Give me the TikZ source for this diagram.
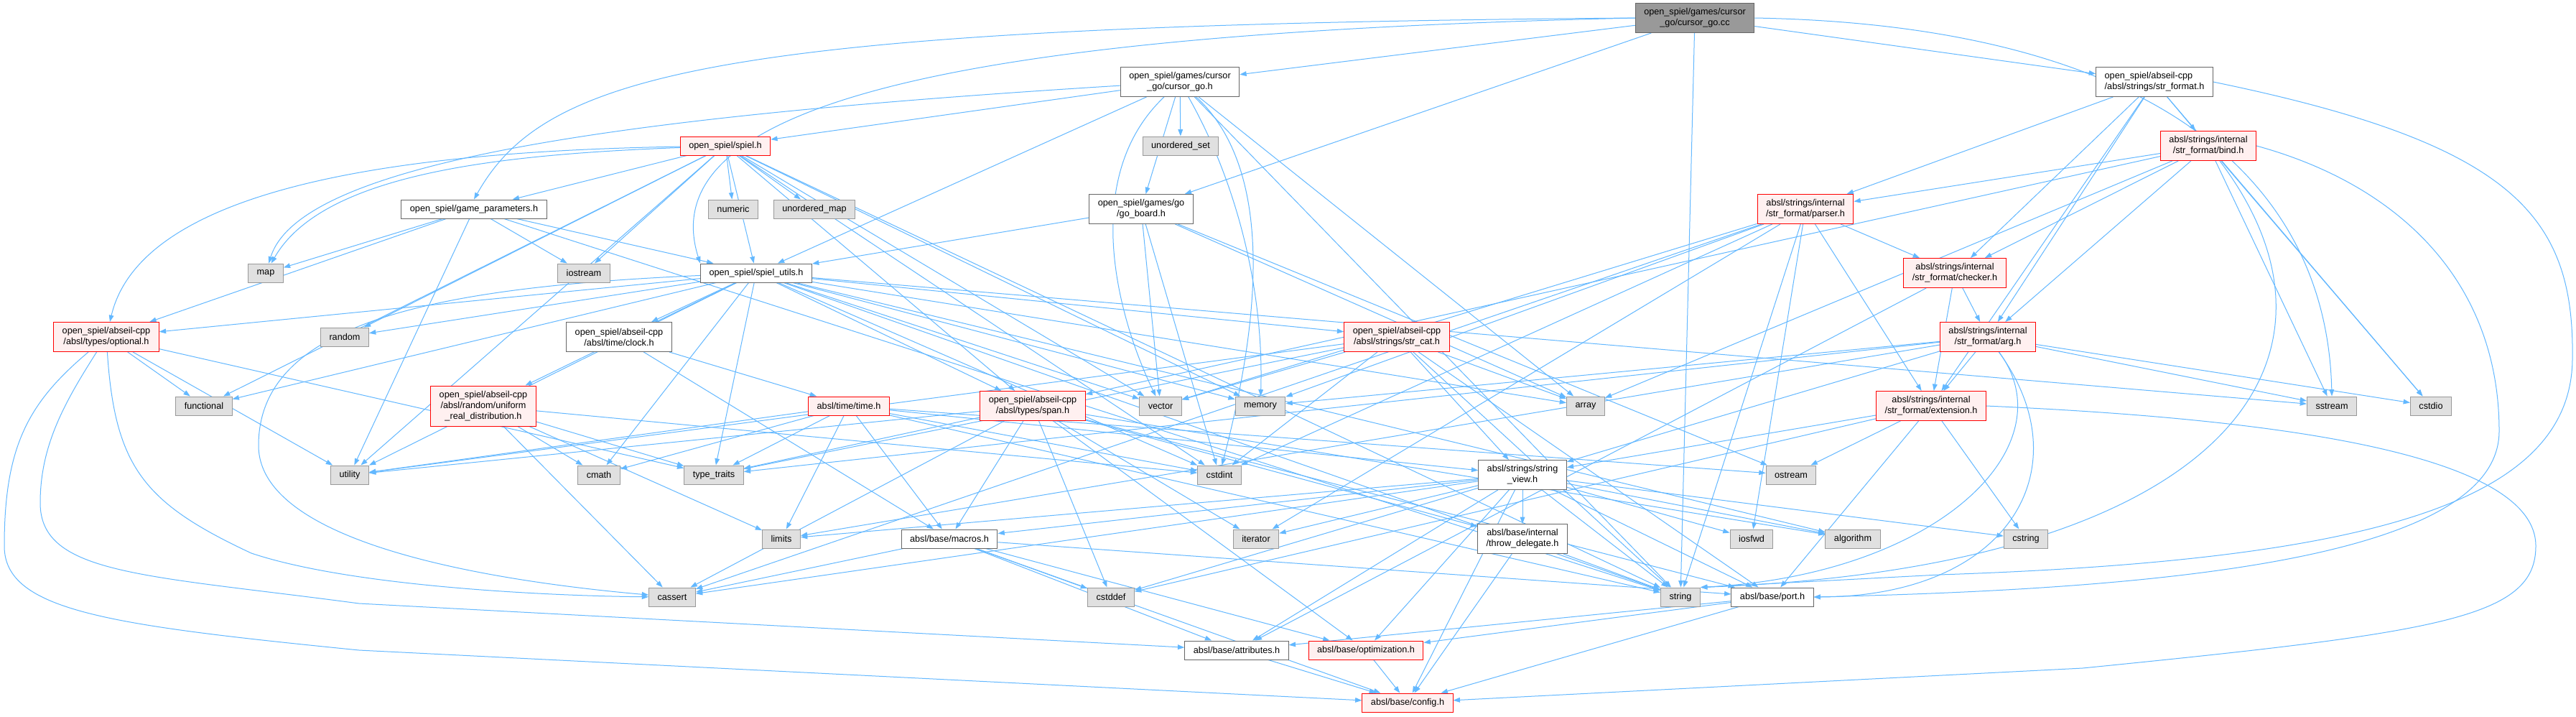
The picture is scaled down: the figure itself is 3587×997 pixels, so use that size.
\documentclass[tikz,border=0pt]{standalone}
\usepackage{fontspec}
\setmainfont{Liberation Sans}
\usepackage{tikz}
\usetikzlibrary{arrows.meta,backgrounds}
\definecolor{edgeblue}{HTML}{63B8FF}
\definecolor{boxgray}{HTML}{666666}
\definecolor{extfill}{HTML}{E0E0E0}
\definecolor{extline}{HTML}{999999}
\definecolor{rootfill}{HTML}{999999}
\definecolor{cutfill}{HTML}{FFF0F0}
\definecolor{cutline}{HTML}{FF0000}
\tikzset{
  basenode/.style={rectangle,inner xsep=9pt,inner ysep=2pt,minimum height=19.5pt,line width=0.75pt,font=\fontsize{9.5pt}{11.25pt}\selectfont,text=black,align=center},
  filenode/.style={basenode,draw=boxgray,fill=white},
  extnode/.style={basenode,draw=extline,fill=extfill},
  cutnode/.style={basenode,draw=cutline,fill=cutfill},
  rootnode/.style={basenode,draw=boxgray,fill=rootfill},
  twoline/.style={minimum height=30.75pt},
  threeline/.style={minimum height=42pt},
  incarrow/.style={-{Triangle[length=7pt,width=5pt]},draw=edgeblue,line width=0.75pt},
}

\begin{document}
\begin{tikzpicture}[x=0.75pt,y=-0.75pt]
        \useasboundingbox (0,0) rectangle (3587,997);
        \node[rootnode,twoline] (root) at (2360,25) {open\_spiel/games/cursor\\\_go/cursor\_go.cc};
        \node[filenode,twoline] (cgh) at (1643,114) {open\_spiel/games/cursor\\\_go/cursor\_go.h};
        \node[filenode,twoline,align=left] (strformat) at (3000,114) {open\_spiel/abseil-cpp\\/absl/strings/str\_format.h};
        \node[cutnode] (spiel) at (1010,203) {open\_spiel/spiel.h};
        \node[extnode] (uset) at (1644,203) {unordered\_set};
        \node[cutnode,twoline] (bind) at (3075,203) {absl/strings/internal\\/str\_format/bind.h};
        \node[filenode] (gameparams) at (660,291) {open\_spiel/game\_parameters.h};
        \node[extnode] (numeric) at (1021,291) {numeric};
        \node[extnode] (umap) at (1134,291) {unordered\_map};
        \node[filenode,twoline] (goboard) at (1589,291) {open\_spiel/games/go\\/go\_board.h};
        \node[cutnode,twoline] (parser) at (2514,291) {absl/strings/internal\\/str\_format/parser.h};
        \node[extnode] (map) at (370,380) {map};
        \node[extnode] (iostream) at (813,380) {iostream};
        \node[filenode] (spielutils) at (1053,380) {open\_spiel/spiel\_utils.h};
        \node[cutnode,twoline] (checker) at (2722,380) {absl/strings/internal\\/str\_format/checker.h};
        \node[cutnode,twoline] (optional) at (148,469) {open\_spiel/abseil-cpp\\/absl/types/optional.h};
        \node[extnode] (random) at (480,469) {random};
        \node[filenode,twoline] (clock) at (862,469) {open\_spiel/abseil-cpp\\/absl/time/clock.h};
        \node[cutnode,twoline] (strcat) at (1945,469) {open\_spiel/abseil-cpp\\/absl/strings/str\_cat.h};
        \node[cutnode,twoline] (arg) at (2768,469) {absl/strings/internal\\/str\_format/arg.h};
        \node[extnode] (functional) at (284,565) {functional};
        \node[cutnode,threeline] (uniform) at (673,565) {open\_spiel/abseil-cpp\\/absl/random/uniform\\\_real\_distribution.h};
        \node[cutnode] (timeh) at (1182,565) {absl/time/time.h};
        \node[cutnode,twoline] (span) at (1438,565) {open\_spiel/abseil-cpp\\/absl/types/span.h};
        \node[extnode] (vector) at (1616,565) {vector};
        \node[extnode] (memory) at (1755,565) {memory};
        \node[extnode] (array) at (2208,565) {array};
        \node[cutnode,twoline] (extension) at (2689,565) {absl/strings/internal\\/str\_format/extension.h};
        \node[extnode] (sstream) at (3247,565) {sstream};
        \node[extnode] (cstdio) at (3385,565) {cstdio};
        \node[extnode] (utility) at (487,661) {utility};
        \node[extnode] (cmath) at (834,661) {cmath};
        \node[extnode] (typetraits) at (994,661) {type\_traits};
        \node[extnode] (cstdint) at (1698,661) {cstdint};
        \node[filenode,twoline] (stringview) at (2120,661) {absl/strings/string\\\_view.h};
        \node[extnode] (ostream) at (2494,661) {ostream};
        \node[extnode] (limits) at (1088,750) {limits};
        \node[filenode] (macros) at (1322,750) {absl/base/macros.h};
        \node[extnode] (iterator) at (1749,750) {iterator};
        \node[filenode,twoline] (throwdel) at (2120,750) {absl/base/internal\\/throw\_delegate.h};
        \node[extnode] (iosfwd) at (2439,750) {iosfwd};
        \node[extnode] (algorithm) at (2580,750) {algorithm};
        \node[extnode] (cstring) at (2821,750) {cstring};
        \node[extnode] (cassert) at (936,831) {cassert};
        \node[extnode] (cstddef) at (1547,831) {cstddef};
        \node[extnode] (string) at (2340,831) {string};
        \node[filenode] (port) at (2468,831) {absl/base/port.h};
        \node[filenode] (attributes) at (1722,905) {absl/base/attributes.h};
        \node[cutnode] (optimization) at (1902,905) {absl/base/optimization.h};
        \node[cutnode] (config) at (1960,978) {absl/base/config.h};
        \begin{scope}[on background layer]
        \fill[white] (0,0) rectangle (3587,997);
        \foreach \tgt in {cgh,strformat,goboard,string} \draw[incarrow] (root) -- (\tgt);
        \draw[incarrow] (root.west) .. controls (1000,35) and (760,100) .. (gameparams.north);
        \draw[incarrow] (root.west) .. controls (1400,45) and (900,130) .. (spielutils.north west);
        \draw[incarrow] (root.east) .. controls (3000,35) and (3240,250) .. (sstream.north);
        \foreach \tgt in {spiel,goboard,uset,spielutils,array,string} \draw[incarrow] (cgh) -- (\tgt);
        \draw[incarrow] (cgh) .. controls (900,160) and (420,220) .. (map);
        \draw[incarrow] (cgh) .. controls (1500,250) and (1560,450) .. (vector);
        \draw[incarrow] (cgh) .. controls (1720,250) and (1760,400) .. (memory);
        \draw[incarrow] (cgh) .. controls (1790,250) and (1740,500) .. (cstdint);
        \foreach \tgt in {cstdio,arg,bind,checker,extension,parser} \draw[incarrow] (strformat) -- (\tgt);
        \draw[incarrow] (strformat.east) .. controls (3500,200) and (3585,300) .. (3582,500) .. controls (3580,700) and (3300,780) .. (2700,800) -- (string.north east);
        \foreach \tgt in {numeric,umap,gameparams,spielutils,span,iostream,functional,memory,random,string,utility,vector,cstdint} \draw[incarrow] (spiel) -- (\tgt);
        \draw[incarrow] (spiel) .. controls (700,215) and (450,240) .. (map);
        \draw[incarrow] (spiel) .. controls (600,210) and (200,250) .. (optional);
        \foreach \tgt in {array,cstdio,sstream,arg,checker,parser,span} \draw[incarrow] (bind) -- (\tgt);
        \draw[incarrow] (bind.east) .. controls (3350,260) and (3480,400) .. (3480,600) .. controls (3480,780) and (3000,820) .. (port.east);
        \draw[incarrow] (bind) .. controls (3300,500) and (3100,790) .. (string.north east);
        \foreach \tgt in {map,iostream,spielutils,optional,utility,string} \draw[incarrow] (gameparams) -- (\tgt);
        \foreach \tgt in {spielutils,array,cstdint,ostream,vector} \draw[incarrow] (goboard) -- (\tgt);
        \foreach \tgt in {cassert,cstdint,iosfwd,iterator,memory,string,vector,checker,extension} \draw[incarrow] (parser) -- (\tgt);
        \foreach \tgt in {attributes,arg,extension} \draw[incarrow] (checker) -- (\tgt);
        \foreach \tgt in {cmath,cstdint,functional,memory,random,sstream,string,typetraits,utility,vector,array,uniform,strcat,clock,optional,span,algorithm} \draw[incarrow] (spielutils) -- (\tgt);
        \draw[incarrow] (spielutils) .. controls (600,400) and (360,450) .. (360,620) .. controls (360,760) and (700,810) .. (cassert);
        \foreach \tgt in {functional,typetraits,utility} \draw[incarrow] (optional) -- (\tgt);
        \draw[incarrow] (optional) .. controls (40,560) and (6,620) .. (6,760) .. controls (6,850) and (150,870) .. (500,905) -- (config);
        \draw[incarrow] (optional) .. controls (90,560) and (56,620) .. (56,700) .. controls (56,800) and (200,800) .. (500,840) -- (attributes);
        \draw[incarrow] (optional) .. controls (160,650) and (200,700) .. (350,770) .. controls (500,820) and (800,830) .. (cassert);
        \foreach \tgt in {macros,timeh} \draw[incarrow] (clock) -- (\tgt);
        \foreach \tgt in {cassert,cmath,cstdint,limits,typetraits} \draw[incarrow] (uniform) -- (\tgt);
        \foreach \tgt in {array,cstdint,string,typetraits,utility,vector,port,stringview} \draw[incarrow] (strcat) -- (\tgt);
        \foreach \tgt in {cstdio,sstream,extension,limits,memory,typetraits,stringview} \draw[incarrow] (arg) -- (\tgt);
        \draw[incarrow] (arg) .. controls (2900,650) and (2800,830) .. (port.east);
        \draw[incarrow] (arg) .. controls (2880,620) and (2700,800) .. (string.north east);
        \foreach \tgt in {cmath,cstdint,limits,ostream,string,typetraits,utility,macros,stringview} \draw[incarrow] (timeh) -- (\tgt);
        \foreach \tgt in {algorithm,cassert,cstddef,iterator,typetraits,utility,throwdel,macros,optimization,port} \draw[incarrow] (span) -- (\tgt);
        \foreach \tgt in {stringview,ostream,cstring,port,cstddef} \draw[incarrow] (extension) -- (\tgt);
        \draw[incarrow] (extension.east) .. controls (3100,580) and (3531,620) .. (3531,760) .. controls (3531,860) and (3400,880) .. (2900,930) -- (config);
        \foreach \tgt in {algorithm,cassert,cstddef,cstring,iosfwd,iterator,limits,string,attributes,config,throwdel,macros,optimization,port} \draw[incarrow] (stringview) -- (\tgt);
        \foreach \tgt in {string,config} \draw[incarrow] (throwdel) -- (\tgt);
        \foreach \tgt in {cassert,cstddef,attributes,config,optimization,port} \draw[incarrow] (macros) -- (\tgt);
        \foreach \tgt in {attributes,config,optimization} \draw[incarrow] (port) -- (\tgt);
        \draw[incarrow] (attributes) -- (config); \draw[incarrow] (optimization) -- (config);
        \end{scope}
      \end{tikzpicture}
\end{document}
